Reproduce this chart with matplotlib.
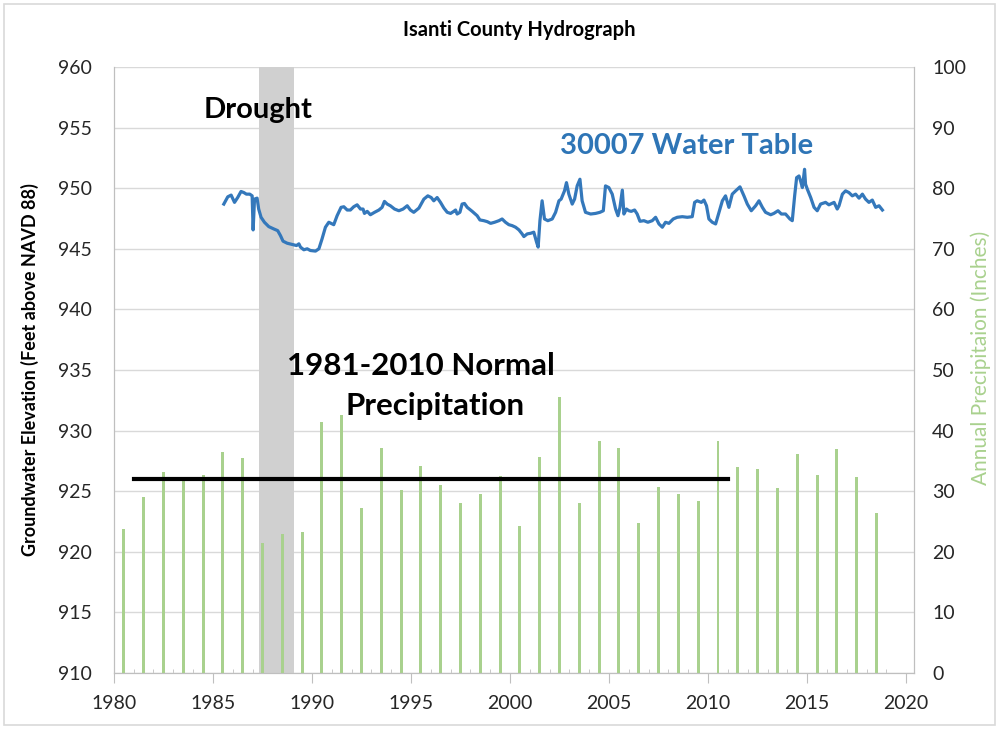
import numpy as np
import matplotlib
matplotlib.use("Agg")
import matplotlib.pyplot as plt
from matplotlib.patches import Rectangle

plt.rcParams['font.family'] = ['Lato', 'DejaVu Sans']

# annual precipitation (inches), plotted at mid-year
precipYears = list(range(1980, 2019))
precip = [23.8, 29.0, 33.1, 32.4, 32.7, 36.4, 35.4, 21.4, 22.9, 23.2,
          41.5, 42.6, 27.3, 37.2, 30.2, 34.2, 31.0, 28.1, 29.5, 32.5,
          24.3, 35.6, 45.5, 28.0, 38.3, 37.2, 24.7, 30.7, 29.5, 28.4,
          38.3, 34.0, 33.6, 30.5, 36.2, 32.7, 37.0, 32.3, 26.4]

# 1981-2010 normal
normalStart = 1981
normalEnd = 2011
normalPrecip = 32.0

# drought period
droughtStart = 1987.35
droughtEnd = 1989.07

# well 30007 water table elevation (ft above NAVD 88)
wellDates = [1985.55, 1985.75, 1985.92, 1986.09, 1986.25, 1986.42, 1986.56, 1986.69, 1986.86, 1986.98,
             1987.03, 1987.10, 1987.23, 1987.31, 1987.43, 1987.60, 1987.82, 1988.07, 1988.27, 1988.41,
             1988.54, 1988.75, 1989.00, 1989.22, 1989.34, 1989.42, 1989.59, 1989.76, 1989.92, 1990.18,
             1990.35, 1990.51, 1990.68, 1990.85, 1991.10, 1991.27, 1991.47, 1991.61, 1991.78, 1991.94,
             1992.11, 1992.28, 1992.45, 1992.58, 1992.65, 1992.79, 1992.95, 1993.16, 1993.38, 1993.54,
             1993.66, 1993.80, 1993.96, 1994.17, 1994.39, 1994.60, 1994.81, 1994.97, 1995.14, 1995.40,
             1995.65, 1995.85, 1996.02, 1996.15, 1996.32, 1996.49, 1996.66, 1996.83, 1997.00, 1997.16,
             1997.25, 1997.33, 1997.47, 1997.58, 1997.70, 1997.84, 1998.09, 1998.34, 1998.48, 1998.68,
             1998.85, 1999.02, 1999.22, 1999.44, 1999.60, 1999.77, 1999.94, 2000.11, 2000.28, 2000.45,
             2000.61, 2000.70, 2000.87, 2001.04, 2001.20, 2001.34, 2001.42, 2001.51, 2001.62, 2001.74,
             2001.91, 2002.13, 2002.30, 2002.47, 2002.58, 2002.75, 2002.85, 2002.97, 2003.14, 2003.26,
             2003.39, 2003.53, 2003.64, 2003.81, 2004.07, 2004.32, 2004.54, 2004.71, 2004.82, 2004.99,
             2005.16, 2005.33, 2005.45, 2005.55, 2005.67, 2005.75, 2005.88, 2006.00, 2006.12, 2006.29,
             2006.42, 2006.56, 2006.76, 2006.96, 2007.18, 2007.35, 2007.52, 2007.69, 2007.85, 2008.02,
             2008.24, 2008.44, 2008.70, 2008.95, 2009.20, 2009.32, 2009.45, 2009.66, 2009.79, 2009.92,
             2010.04, 2010.21, 2010.38, 2010.55, 2010.72, 2010.88, 2011.05, 2011.22, 2011.39, 2011.61,
             2011.81, 2011.98, 2012.18, 2012.40, 2012.57, 2012.74, 2012.90, 2013.16, 2013.32, 2013.53,
             2013.70, 2013.91, 2014.13, 2014.25, 2014.37, 2014.47, 2014.59, 2014.67, 2014.76, 2014.87,
             2014.92, 2015.01, 2015.18, 2015.35, 2015.51, 2015.68, 2015.93, 2016.10, 2016.36, 2016.52,
             2016.61, 2016.78, 2016.94, 2017.11, 2017.28, 2017.45, 2017.62, 2017.79, 2017.95, 2018.12,
             2018.29, 2018.46, 2018.63, 2018.80]
wellElev = [948.69, 949.29, 949.43, 948.83, 949.23, 949.73, 949.64, 949.51, 949.51, 949.37,
            946.56, 949.10, 949.18, 948.28, 947.60, 947.19, 946.83, 946.64, 946.50, 946.09,
            945.63, 945.46, 945.36, 945.27, 945.41, 945.14, 944.92, 945.00, 944.86, 944.81,
            945.00, 945.82, 946.78, 947.19, 946.99, 947.73, 948.42, 948.47, 948.20, 948.20,
            948.47, 948.63, 948.28, 948.28, 947.92, 948.09, 947.81, 948.01, 948.20, 948.42,
            948.91, 948.69, 948.55, 948.28, 948.14, 948.28, 948.55, 948.20, 948.01, 948.36,
            949.10, 949.37, 949.23, 948.96, 949.23, 948.83, 948.36, 948.01, 947.92, 948.09,
            948.20, 947.87, 948.01, 948.69, 948.74, 948.42, 948.09, 947.73, 947.38, 947.32,
            947.24, 947.10, 947.19, 947.32, 947.46, 947.19, 946.99, 946.91, 946.78, 946.56,
            946.23, 946.01, 946.23, 946.28, 946.37, 945.55, 945.14, 947.32, 948.96, 947.46,
            947.32, 947.46, 948.01, 948.96, 949.10, 949.78, 950.46, 949.51, 948.69, 949.10,
            950.19, 950.74, 948.96, 948.01, 947.87, 947.92, 948.01, 948.14, 950.19, 950.05,
            949.51, 948.28, 947.73, 948.42, 949.84, 947.87, 948.28, 948.14, 948.09, 948.20,
            947.87, 947.27, 947.32, 947.19, 947.32, 947.60, 947.05, 946.78, 947.19, 947.10,
            947.46, 947.60, 947.65, 947.60, 947.65, 948.83, 948.96, 948.83, 949.02, 948.55,
            947.46, 947.19, 947.05, 948.01, 948.96, 949.37, 948.42, 949.51, 949.78, 950.11,
            949.37, 948.69, 948.14, 948.55, 948.96, 948.42, 948.01, 947.81, 947.92, 948.14,
            947.87, 947.87, 947.46, 947.32, 949.37, 950.87, 951.01, 950.60, 950.05, 951.56,
            950.33, 949.92, 949.23, 948.42, 948.14, 948.69, 948.83, 948.63, 948.83, 948.28,
            948.55, 949.51, 949.78, 949.64, 949.37, 949.51, 949.18, 949.51, 949.10, 948.83,
            949.02, 948.42, 948.55, 948.20]

blue = "#3478bb"
green = "#a9d18e"
gray = "#bfbfbf"

fig = plt.figure(figsize=(9.99, 7.29), dpi=100)
ax = fig.add_axes([0.114, 0.0768, 0.801, 0.8313])
ax2 = ax.twinx()

# left axis: groundwater
ax.set_xlim(1980, 2020.4)
ax.set_ylim(910, 960)
ax.set_yticks(np.arange(910, 961, 5))
ax.set_xticks(np.arange(1980, 2021, 5))
ax.set_xticks(np.arange(1980, 2021, 1), minor=True)
ax.set_axisbelow(True)
ax.grid(axis="y", color="#d9d9d9", linewidth=1.0)
ax.axvspan(droughtStart, droughtEnd, color="#d0d0d0", lw=0, zorder=1)
ax.plot(wellDates, wellElev, color=blue, linewidth=2.3, zorder=3)

# right axis: precipitation
ax2.set_ylim(0, 100)
ax2.set_yticks(np.arange(0, 101, 10))
barX = [y + 0.5 for y in precipYears]
ax2.bar(barX, precip, width=0.15, color=green, zorder=2)
ax2.plot([normalStart, normalEnd], [normalPrecip, normalPrecip], color="black", linewidth=3, zorder=4)

for a in (ax, ax2):
    a.spines["top"].set_visible(False)
    for s in ("left", "right", "bottom"):
        a.spines[s].set_color(gray)

ax.tick_params(axis="y", length=0, pad=16, labelsize=14, labelcolor="#262626")
ax2.tick_params(axis="y", length=0, pad=13, labelsize=14, labelcolor="#262626")
ax.tick_params(axis="x", which="major", direction="out", length=7, color=gray, pad=9, labelsize=14, labelcolor="#262626")
ax.tick_params(axis="x", which="minor", direction="in", length=3, color=gray)

ax.set_ylabel("Groundwater Elevation (Feet above NAVD 88)", fontsize=13, fontweight="bold")
ax.yaxis.set_label_coords(-0.093, 0.5)
ax2.set_ylabel("Annual Precipitaion (Inches)", fontsize=15, color=green)
ax2.yaxis.set_label_coords(1.071, 0.52)

ax.text(1987.3, 956.45, "Drought", fontsize=21, fontweight="bold", ha="center", va="center")
ax.text(2008.9, 953.5, "30007 Water Table", fontsize=21, fontweight="bold", color="#2e75b6", ha="center", va="center")
ax.text(1995.5, 935.3, "1981-2010 Normal", fontsize=22.5, fontweight="bold", ha="center", va="center", zorder=5)
ax.text(1996.2, 932.0, "Precipitation", fontsize=22.5, fontweight="bold", ha="center", va="center", zorder=5)

fig.text(0.52, 1 - 30 / 729, "Isanti County Hydrograph", fontsize=14.5, fontweight="bold", ha="center", va="center")

fig.patches.append(Rectangle((0.004, 0.006), 0.992, 0.988, transform=fig.transFigure,
                             fill=False, edgecolor="#d9d9d9", linewidth=1.2))

fig.savefig("out.png", dpi=100)
